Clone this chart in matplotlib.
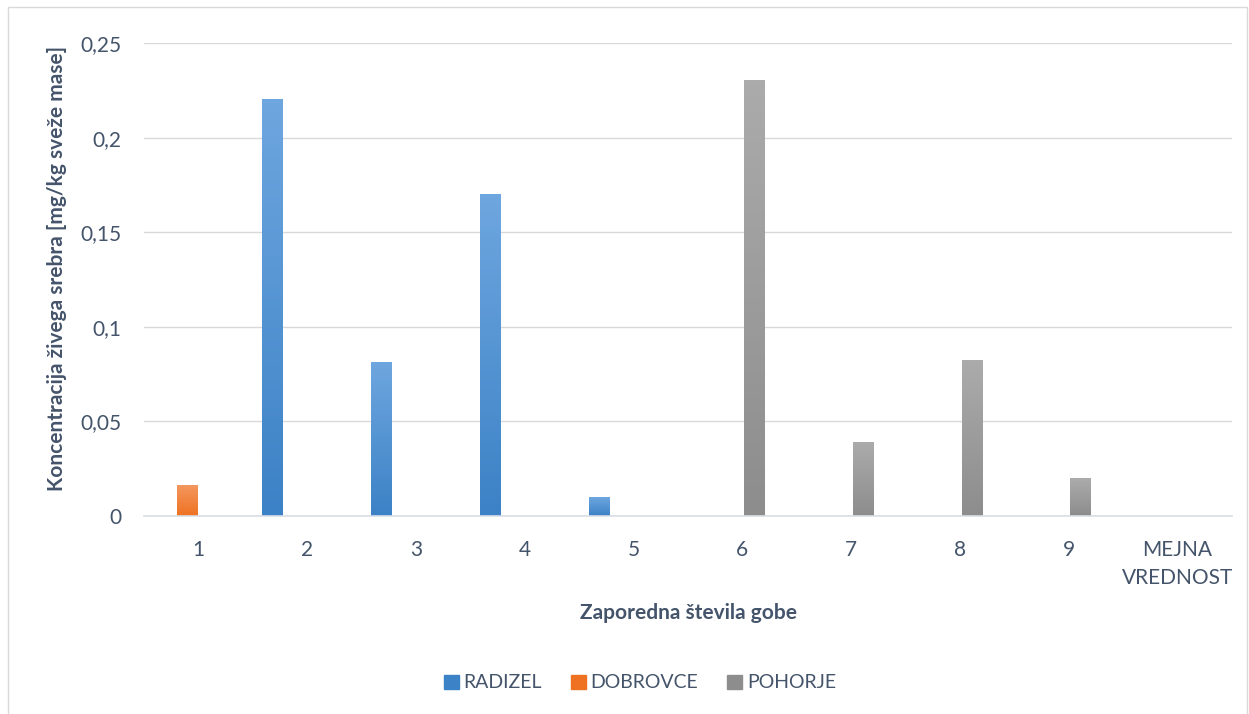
import numpy as np
import matplotlib
matplotlib.use("Agg")
import matplotlib.pyplot as plt
from matplotlib.colors import LinearSegmentedColormap
from matplotlib.patches import Rectangle

categories = ["1", "2", "3", "4", "5", "6", "7", "8", "9", "MEJNA\nVREDNOST"]
radizel = [0, 0.22, 0.081, 0.17, 0.01, 0, 0, 0, 0, 0]
dobrovce = [0.016, 0, 0, 0, 0, 0, 0, 0, 0, 0]
pohorje = [0, 0, 0, 0, 0, 0.23, 0.039, 0.082, 0.02, 0]
mejna = [0, 0, 0, 0, 0, 0, 0, 0, 0, 0]
series_names = ["RADIZEL", "DOBROVCE", "POHORJE"]
yticks = [0, 0.05, 0.1, 0.15, 0.2, 0.25]
ytick_labels = ["0", "0,05", "0,1", "0,15", "0,2", "0,25"]

plt.rcParams['font.family'] = ['Lato', 'DejaVu Sans']
txt = '#44546A'

fig = plt.figure(figsize=(12.49, 7.14), dpi=100)
fig.patches.append(Rectangle((8/1249, -0.01), (1247-8)/1249, 1.0, transform=fig.transFigure,
                             fill=False, edgecolor='#D9D9D9', linewidth=1.0))
ax = fig.add_axes([144/1249, 1-516/714, (1232-144)/1249, (516-43)/714])

x = np.arange(len(categories))
step = 0.2145
width = 0.184
colors = [('#3C82C6', '#6EA6DF'), ('#EE7222', '#F4975E'), ('#8D8D8D', '#ABABAB')]
data = [radizel, dobrovce, pohorje, mejna]
handles = []
for i, vals in enumerate(data):
    off = (i - 1.5) * step
    if i < 3:
        c0, c1 = colors[i]
        bars = ax.bar(x + off, vals, width, color=c0, label=series_names[i], zorder=2)
        cmap = LinearSegmentedColormap.from_list('g%d' % i, [c0, c1])
        for b in bars:
            h = b.get_height()
            if h <= 0:
                continue
            b.set_alpha(0)
            grad = np.linspace(0, 1, 100).reshape(-1, 1)
            ax.imshow(grad, extent=[b.get_x(), b.get_x() + b.get_width(), 0, h],
                      origin='lower', cmap=cmap, aspect='auto', zorder=2)
        handles.append(Rectangle((0, 0), 1, 1, color=c0))
    else:
        ax.bar(x + off, vals, width, color='none', zorder=2)

ax.set_xlim(-0.5, len(categories) - 0.5)
ax.set_ylim(0, 0.25)
ax.set_yticks(yticks)
ax.set_yticklabels(ytick_labels)
ax.set_xticks(x)
ax.set_xticklabels(categories)
ax.yaxis.grid(True, color='#D9D9D9', linewidth=1.0, zorder=0)
ax.set_axisbelow(True)
for s in ['top', 'right', 'left']:
    ax.spines[s].set_visible(False)
ax.spines['bottom'].set_color('#D9DEE6')
ax.spines['bottom'].set_linewidth(1.2)
ax.tick_params(axis='both', length=0, labelsize=15, labelcolor=txt)
ax.tick_params(axis='y', pad=16)
ax.tick_params(axis='x', pad=17)
for lab in ax.get_xticklabels():
    lab.set_linespacing(1.5)
    lab.set_va('top')

ylab = ax.set_ylabel('Koncentracija živega srebra [mg/kg sveže mase]', fontsize=15,
                     fontweight='bold', color=txt, va='center', ha='center')
ax.yaxis.set_label_coords(-(144-57)/1088, 0.524)
ax.set_xlabel('Zaporedna števila gobe', fontsize=15,
              fontweight='bold', color=txt)
ax.xaxis.set_label_coords(0.5, -(613-516)/473)
ax.xaxis.label.set_va('center')

fig.legend(handles, series_names, loc='center', bbox_to_anchor=(640/1249, 1-683/714),
           ncol=3, frameon=False, fontsize=14, labelcolor=txt, handlelength=0.75,
           handleheight=0.75, handletextpad=0.25, columnspacing=1.5)

fig.savefig('out.png', dpi=100)
